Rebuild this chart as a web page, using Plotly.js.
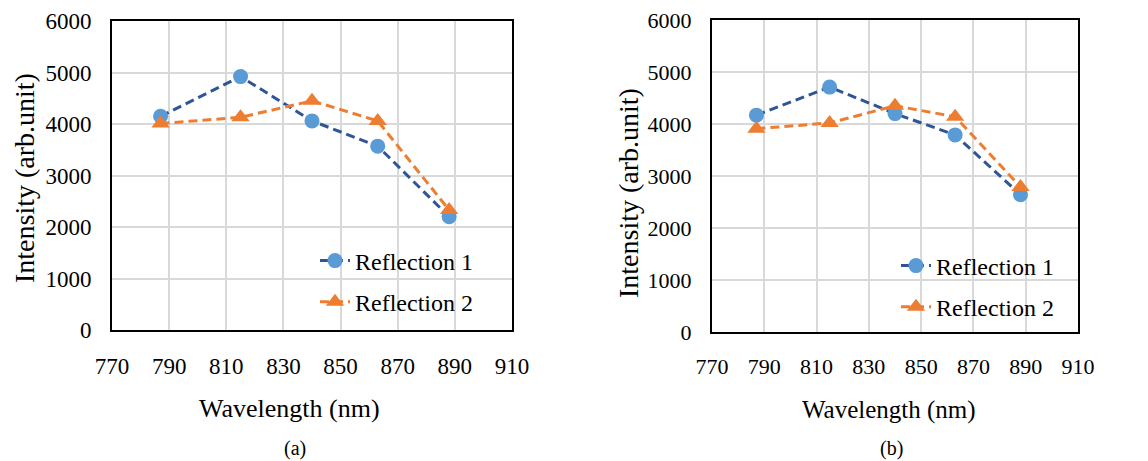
<!DOCTYPE html>
<html>
<head>
<meta charset="utf-8">
<script src="https://cdn.plot.ly/plotly-3.0.1.min.js"></script>
<style>html,body{margin:0;padding:0;background:#fff;}#chart{width:1148px;height:461px;}</style>
</head>
<body>
<div id="chart"></div>
<script>
// Wavelengths (nm)
const wavelengths = [787, 815, 840, 863, 888];
// Panel (a)
const a_reflection1 = [4150, 4920, 4060, 3570, 2200];
const a_reflection2 = [4010, 4130, 4450, 4060, 2330];
// Panel (b)
const b_reflection1 = [4170, 4710, 4200, 3790, 2640];
const b_reflection2 = [3910, 4020, 4350, 4140, 2790];
const seriesNames = ["Reflection 1", "Reflection 2"];
const panelLabels = ["(a)", "(b)"];
const xTitle = "Wavelength (nm)";
const yTitle = "Intensity (arb.unit)";
const xTicks = [770, 790, 810, 830, 850, 870, 890, 910];
const yTicks = [0, 1000, 2000, 3000, 4000, 5000, 6000];

const FONT = "Liberation Serif";
const blueLine = "#2F5597", blueMark = "#5B9BD5", orange = "#ED7D31";

function mk(y, name, idx, xa, ya, leg, grp) {
  const isR1 = idx === 0;
  return {
    x: wavelengths, y: y, name: name, type: "scatter", mode: "lines+markers",
    xaxis: xa, yaxis: ya, legend: leg, legendgroup: grp,
    line: {color: isR1 ? blueLine : orange, width: 3, dash: "9px,5px"},
    marker: {symbol: isR1 ? "circle" : "triangle-up", size: isR1 ? 15 : 16, color: isR1 ? blueMark : orange}
  };
}

const data = [
  mk(a_reflection1, seriesNames[0], 0, "x", "y", "legend", "a1"),
  mk(a_reflection2, seriesNames[1], 1, "x", "y", "legend", "a2"),
  mk(b_reflection1, seriesNames[0], 0, "x2", "y2", "legend2", "b1"),
  mk(b_reflection2, seriesNames[1], 1, "x2", "y2", "legend2", "b2")
];

function xax(domain, anchor, tickSize) {
  return {
    domain: domain, anchor: anchor, range: [770, 910], tickvals: xTicks, ticks: "", showline: true, mirror: true,
    linecolor: "#000", linewidth: 2, showgrid: true, gridcolor: "#D9D9D9", gridwidth: 2, zeroline: false,
    tickfont: {family: FONT, size: tickSize, color: "#000"}, ticklabelstandoff: 14
  };
}
function yax(domain, anchor, tickSize) {
  return {
    domain: domain, anchor: anchor, range: [0, 6000], tickvals: yTicks, ticks: "", showline: true, mirror: true,
    linecolor: "#000", linewidth: 2, showgrid: true, gridcolor: "#D9D9D9", gridwidth: 2, zeroline: false,
    tickfont: {family: FONT, size: tickSize, color: "#000"}, ticklabelstandoff: 14
  };
}

const legBase = {bgcolor: "rgba(0,0,0,0)", font: {family: FONT, size: 24, color: "#000"},
  xanchor: "left", yanchor: "middle", tracegroupgap: 7, traceorder: "grouped"};

function txt(t, x, y, size, angle) {
  return {text: t, xref: "paper", yref: "paper", x: x / 1148, y: 1 - y / 461, showarrow: false,
    textangle: angle || 0, font: {family: FONT, size: size, color: "#000"}, xanchor: "center", yanchor: "middle"};
}

const layout = {
  width: 1148, height: 461, margin: {l: 0, r: 0, t: 0, b: 0},
  paper_bgcolor: "#fff", plot_bgcolor: "#fff",
  font: {family: FONT, color: "#000"},
  xaxis: xax([112/1148, 512/1148], "y", 23),
  yaxis: yax([1 - 330/461, 1 - 21/461], "x", 23),
  xaxis2: xax([712/1148, 1078/1148], "y2", 22),
  yaxis2: yax([1 - 332/461, 1 - 20/461], "x2", 22),
  legend: Object.assign({}, legBase, {x: 315/1148, y: 1 - 281.5/461}),
  legend2: Object.assign({}, legBase, {x: 896/1148, y: 1 - 286.5/461}),
  annotations: [
    txt(xTitle, 289, 408, 26),
    txt(xTitle, 889, 410, 25),
    txt(yTitle, 24, 178, 28, -90),
    txt(yTitle, 628, 193, 28, -90),
    txt(panelLabels[0], 295, 448, 20),
    txt(panelLabels[1], 892, 448, 20)
  ]
};

Plotly.newPlot("chart", data, layout, {staticPlot: true, displayModeBar: false});
</script>
</body>
</html>
